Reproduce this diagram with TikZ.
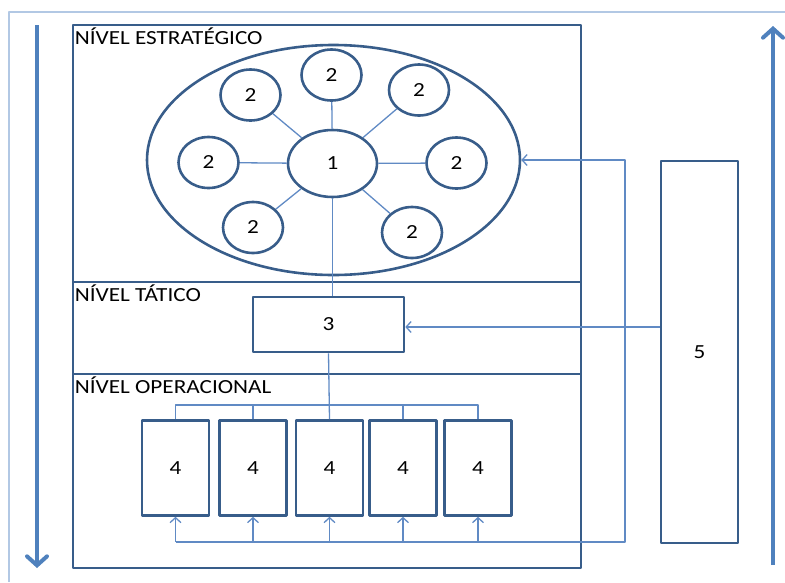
\documentclass[tikz,border=0pt]{standalone}
\usepackage{fontspec}
\setmainfont{Carlito}[FakeStretch=1.16]
\usetikzlibrary{shapes.geometric,arrows.meta}
\definecolor{outl}{RGB}{56,93,138}
\definecolor{conn}{RGB}{96,138,196}
\definecolor{bigc}{RGB}{79,129,189}
\definecolor{frame}{RGB}{178,200,228}
\begin{document}
\begin{tikzpicture}[x=1pt, y=-1pt, font=\fontsize{20}{23}\selectfont, line join=round,
		level/.style={draw=outl, line width=2.8pt, inner sep=0pt},
		oval/.style={ellipse, draw=outl, line width=2.6pt, inner sep=0pt},
		box/.style={rectangle, draw=outl, line width=2.6pt, inner sep=0pt},
		link/.style={draw=conn, line width=1.3pt},
		feed/.style={link, -{Straight Barb[length=5pt, width=11pt]}},
		bigarrow/.style={draw=bigc, line width=4pt, -{Straight Barb[length=9pt, width=20pt, line cap=round]}},
		tag/.style={anchor=north west, inner sep=0pt, text=black}]
	\useasboundingbox (0,0) rectangle (785,582);
	% frame
	\draw[frame, line width=1.5pt] (9,582) -- (9,12) -- (785,12);
	% levels
	\node[level, minimum width=508pt, minimum height=257pt] (lvlE) at (327,153.5) {};
	\node[level, minimum width=508pt, minimum height=92pt] (lvlT) at (327,328) {};
	\node[level, minimum width=508pt, minimum height=194pt] (lvlO) at (327,471) {};
	\node[tag] at ([xshift=3pt, yshift=-3.5pt]lvlE.north west) {NÍVEL ESTRATÉGICO};
	\node[tag] at ([xshift=3pt, yshift=-3.5pt]lvlT.north west) {NÍVEL TÁTICO};
	\node[tag] at ([xshift=3pt, yshift=-3.5pt]lvlO.north west) {NÍVEL OPERACIONAL};
	% strategic
	\node[oval, minimum width=373pt, minimum height=230pt] (strat) at (333.5,160) {};
	\node[oval, minimum width=89pt, minimum height=67pt] (c1) at (332.5,163.5) {1};
	\foreach \n/\x/\y in {a/331.5/75, b/250.5/95, c/419/90, d/208.5/162.5, e/456.5/163, f/253/227.5, g/412/232.5} {
		\node[oval, minimum width=60pt, minimum height=51pt] (s\n) at (\x,\y) {2};
		\draw[link] (c1) -- (s\n);
	}
	% tactic
	\node[box, minimum width=151pt, minimum height=55pt] (t3) at (328.5,324.5) {3};
	\draw[link] (c1.south) -- (c1.south |- t3.north);
	% operational
	\foreach \n/\x in {a/175.5, b/253, c/329.5, d/403, e/478} {
		\node[box, minimum width=67pt, minimum height=95pt] (o\n) at (\x,468) {4};
	}
	\coordinate (bus) at (0,405);
	\draw[link] (t3.south) -- (oc.north);
	\draw[link] (oa.north) -- (oa.north |- bus) -- (oe.north |- bus) -- (oe.north);
	\draw[link] (ob.north) -- (ob.north |- bus);
	\draw[link] (od.north) -- (od.north |- bus);
	% feedback
	\node[box, minimum width=77pt, minimum height=382pt] (f5) at (699.5,352) {5};
	\coordinate (fb) at (625,542);
	\draw[feed] (oa.south |- fb) -- (fb) |- (strat.east);
	\foreach \n in {a,...,e}
		\draw[feed] (o\n.south |- fb) -- (o\n.south);
	\draw[feed] (f5.west |- 0,327) -- (t3.east |- 0,327);
	% direction arrows
	\coordinate (downA) at (37,25);
	\coordinate (downB) at (37,568);
	\coordinate (upA) at (773,565);
	\coordinate (upB) at (773,26);
	\draw[bigarrow] (downA) -- (downB);
	\draw[bigarrow] (upA) -- (upB);
\end{tikzpicture}
\end{document}
